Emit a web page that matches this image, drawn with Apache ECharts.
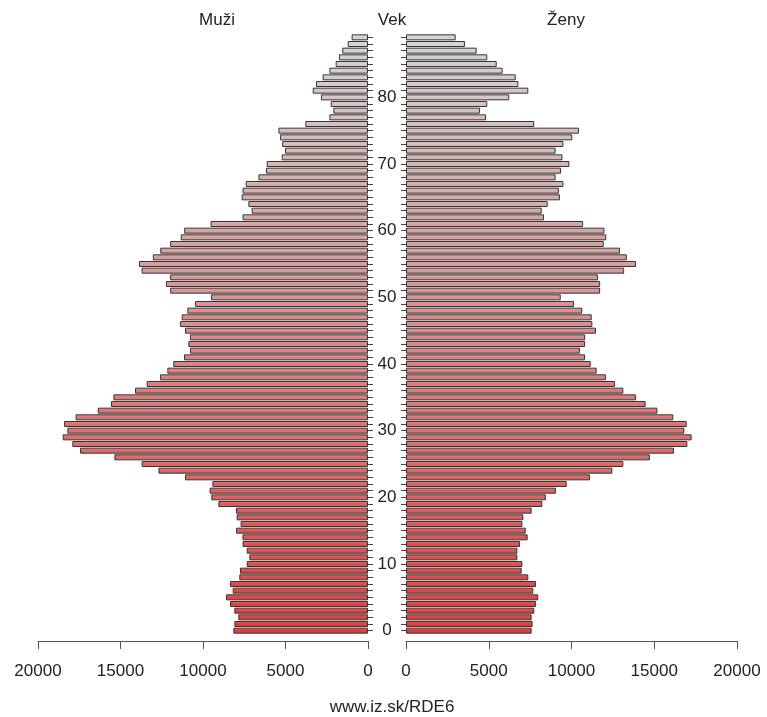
<!DOCTYPE html>
<html>
<head>
<meta charset="utf-8">
<script src="https://cdn.jsdelivr.net/npm/echarts@6/dist/echarts.min.js"></script>
<style>
html,body{margin:0;padding:0;background:#fff;}
#chart{width:767px;height:717px;}
</style>
</head>
<body>
<div id="chart"></div>
<script>
// Ages 0..89
const ages = Array.from({length: 90}, (_, i) => String(i));
const ageLabels = ['0','10','20','30','40','50','60','70','80'];
const axisTicks = [0, 5000, 10000, 15000, 20000];

const male = [
  8160, 8100, 7860, 8100, 8360, 8600, 8200, 8360, 7800, 7760,
  7350, 7190, 7350, 7600, 7610, 8000, 7720, 7960, 8000, 9070,
  9500, 9600, 9430, 11090, 12700, 13720, 15370, 17450, 17920, 18500,
  18220, 18420, 17720, 16380, 15580, 15430, 14120, 13410, 12600, 12160,
  11800, 11150, 10790, 10890, 10790, 11090, 11390, 11290, 10950, 10480,
  9520, 11990, 12250, 11990, 13720, 13880, 13040, 12590, 11990, 11350,
  11140, 9540, 7600, 7050, 7250, 7660, 7600, 7410, 6640, 6180,
  6140, 5230, 5030, 5200, 5330, 5430, 3800, 2340, 2100, 2260,
  2850, 3350, 3150, 2750, 2340, 1960, 1760, 1560, 1230, 990
];

const female = [
  7590, 7650, 7590, 7750, 7850, 7990, 7690, 7850, 7390, 6990,
  7030, 6730, 6730, 6890, 7350, 7230, 7030, 7090, 7590, 8240,
  8450, 9060, 9710, 11120, 12470, 13130, 14740, 16190, 17000, 17260,
  16820, 16960, 16150, 15190, 14480, 13900, 13130, 12630, 12080, 11520,
  11160, 10820, 10510, 10820, 10820, 11480, 11260, 11220, 10650, 10150,
  9350, 11730, 11730, 11600, 13180, 13900, 13340, 12930, 11950, 12100,
  11990, 10700, 8340, 8200, 8560, 9300, 9240, 9510, 9040, 9370,
  9870, 9450, 9040, 9510, 10050, 10450, 7750, 4830, 4470, 4910,
  6240, 7390, 6790, 6630, 5840, 5480, 4910, 4270, 3560, 3000
];

const titles = {left: 'Muži', mid: 'Vek', right: 'Ženy', caption: 'www.iz.sk/RDE6'};

const FONT = '"Liberation Sans", Arial, sans-serif';
const n = ages.length;
function colAt(i, light) {
  const t = i / (n - 1);
  const c0 = [224, 60, 60], c1 = [212, 212, 212];
  let c = c0.map((v, k) => Math.round(v + (c1[k] - v) * t));
  if (light) c = c.map(v => Math.round(v + (255 - v) * 0.22));
  return 'rgb(' + c.join(',') + ')';
}
function items(arr) {
  return arr.map((v, i) => ({
    value: v,
    itemStyle: {
      color: new echarts.graphic.LinearGradient(0, 0, 0, 1, [
        {offset: 0, color: colAt(i, true)},
        {offset: 0.45, color: colAt(i, false)},
        {offset: 1, color: colAt(i, false)}
      ])
    }
  }));
}

const chart = echarts.init(document.getElementById('chart'), null, {renderer: 'canvas'});
const xAxisCommon = {
  type: 'value', min: axisTicks[0], max: axisTicks[axisTicks.length - 1], interval: 5000,
  position: 'bottom', offset: 7,
  axisLine: {show: true, lineStyle: {color: '#555', width: 1}},
  axisTick: {show: true, length: 8, lineStyle: {color: '#555'}},
  axisLabel: {color: '#222', fontSize: 17, fontFamily: FONT, margin: 22, formatter: v => String(v)},
  splitLine: {show: false}
};
const titleStyle = {fontSize: 17, fontWeight: 'normal', color: '#222', fontFamily: FONT};
chart.setOption({
  animation: false,
  backgroundColor: '#fff',
  title: [
    {text: titles.left, left: 212, top: 7, textAlign: 'center', textStyle: titleStyle},
    {text: titles.mid, left: 387, top: 7, textAlign: 'center', textStyle: titleStyle},
    {text: titles.right, left: 561, top: 7, textAlign: 'center', textStyle: titleStyle},
    {text: titles.caption, left: 387, top: 694, textAlign: 'center', textStyle: titleStyle}
  ],
  grid: [
    {left: 38, width: 330, top: 34, height: 600},
    {left: 406, width: 331, top: 34, height: 600}
  ],
  xAxis: [
    Object.assign({gridIndex: 0, inverse: true}, xAxisCommon),
    Object.assign({gridIndex: 1}, xAxisCommon)
  ],
  yAxis: [
    {
      type: 'category', gridIndex: 0, data: ages, position: 'right',
      axisLine: {show: false},
      axisTick: {show: true, interval: 0, alignWithLabel: true, length: 5, lineStyle: {color: '#444'}},
      axisLabel: {
        interval: (i, v) => ageLabels.indexOf(v) >= 0,
        align: 'center', margin: 19, fontSize: 17, color: '#222', fontFamily: FONT,
        padding: [3, 0, 0, 0]
      }
    },
    {
      type: 'category', gridIndex: 1, data: ages, position: 'left',
      axisLine: {show: false},
      axisTick: {show: true, interval: 0, alignWithLabel: true, length: 5, lineStyle: {color: '#444'}},
      axisLabel: {show: false}
    }
  ],
  series: [
    {
      type: 'bar', xAxisIndex: 0, yAxisIndex: 0, data: items(male),
      barWidth: 6,
      itemStyle: {borderColor: '#333', borderWidth: 1}
    },
    {
      type: 'bar', xAxisIndex: 1, yAxisIndex: 1, data: items(female),
      barWidth: 6,
      itemStyle: {borderColor: '#333', borderWidth: 1}
    }
  ]
});
</script>
</body>
</html>
